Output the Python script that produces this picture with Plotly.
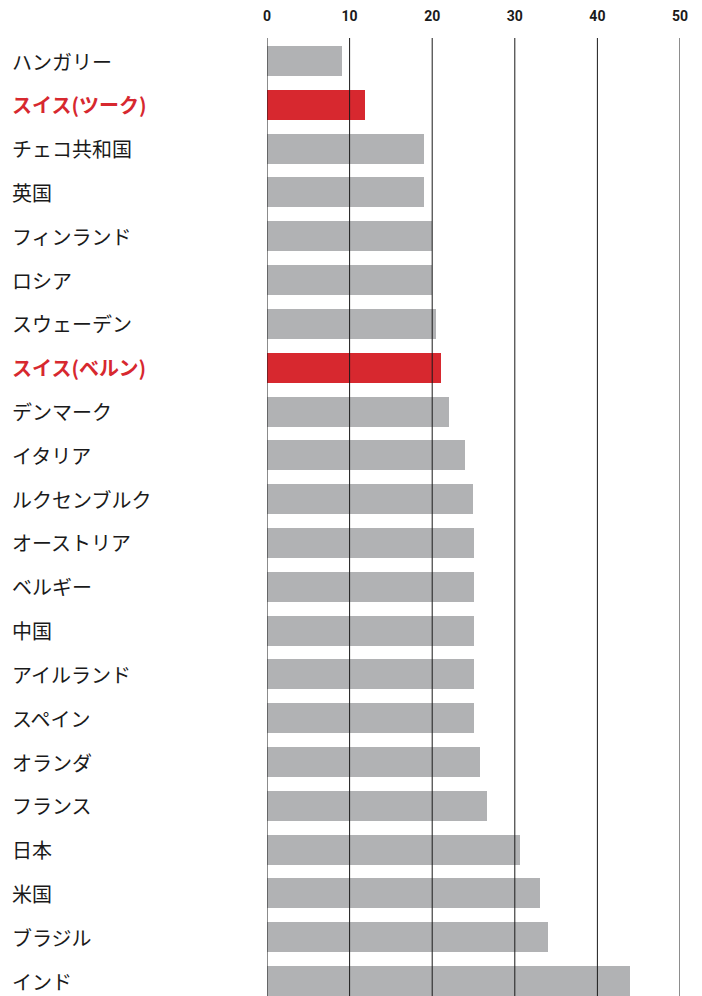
import plotly.graph_objects as go

countries = ["ハンガリー", "スイス(ツーク)", "チェコ共和国", "英国", "フィンランド", "ロシア",
             "スウェーデン", "スイス(ベルン)", "デンマーク", "イタリア", "ルクセンブルク",
             "オーストリア", "ベルギー", "中国", "アイルランド", "スペイン", "オランダ",
             "フランス", "日本", "米国", "ブラジル", "インド"]
values = [9.1, 11.9, 19.0, 19.0, 20.0, 20.0, 20.5, 21.1, 22.0, 24.0, 24.9,
          25.1, 25.1, 25.1, 25.1, 25.1, 25.8, 26.6, 30.6, 33.0, 34.0, 43.9]
highlight = ["スイス(ツーク)", "スイス(ベルン)"]
tick_vals = [0, 10, 20, 30, 40, 50]

GREY = "#b1b2b4"
RED = "#d7282f"

colors = [RED if c in highlight else GREY for c in countries]

fig = go.Figure(go.Bar(
    x=values, y=countries, orientation="h",
    marker=dict(color=colors, line=dict(width=0)),
    width=0.685, hoverinfo="x+y",
))

# page has an 8px body margin
W, H = 694, 988
ML, MR, MT, MB = 259, 22, 30, 0
plot_w = W - ML - MR

shapes = [dict(type="line", xref="x", yref="paper", x0=t, x1=t, y0=0, y1=1,
               line=dict(color="#1a1a1a", width=1), layer="above") for t in tick_vals]

annotations = []
for c in countries:
    hl = c in highlight
    annotations.append(dict(
        xref="paper", yref="y", x=(2 - ML) / plot_w, y=c, xanchor="left", yanchor="middle",
        text=(f"<b>{c}</b>" if hl else c), showarrow=False,
        font=dict(family="Noto Sans CJK JP", size=20, color=RED if hl else "#1a1a1a"),
    ))

n = len(countries)
fig.update_layout(
    width=W, height=H,
    margin=dict(l=ML, r=MR, t=MT, b=MB, pad=0),
    paper_bgcolor="white", plot_bgcolor="white",
    showlegend=False,
    bargap=0,
    shapes=shapes,
    annotations=annotations,
    xaxis=dict(range=[0, 50], side="top", tickvals=tick_vals, ticktext=[str(t) for t in tick_vals],
               showgrid=False, zeroline=False, showline=False, ticks="",
               tickfont=dict(family="Roboto", size=14, color="#1a1a1a", weight="bold"),
               ticklabelstandoff=13, fixedrange=True),
    yaxis=dict(categoryorder="array", categoryarray=countries,
               range=[n - 1 + 0.34, -0.525], showticklabels=False,
               showgrid=False, zeroline=False, showline=False, ticks="", fixedrange=True),
)

fig.write_html("out.html")
